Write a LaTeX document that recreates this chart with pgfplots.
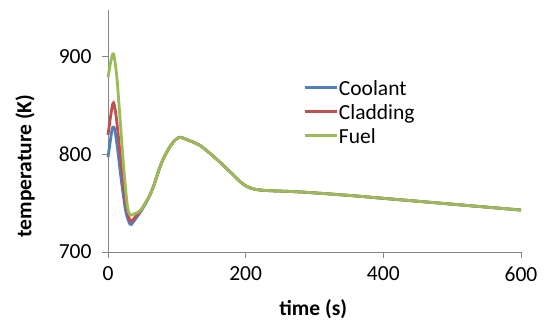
\documentclass[border=0pt]{standalone}
\usepackage{pgfplots}
\pgfplotsset{compat=1.18}
\usepackage{fontspec}
\setmainfont{Carlito}
\definecolor{cBlue}{HTML}{4F81BD}
\definecolor{cRed}{HTML}{C0504D}
\definecolor{cGreen}{HTML}{9BBB59}
\definecolor{axgray}{HTML}{868686}
\begin{document}
\begin{tikzpicture}
\begin{axis}[
  scale only axis, width=413pt, height=242pt,
  xmin=0, xmax=600, ymin=700, ymax=948,
  xtick={0,200,400,600}, ytick={700,800,900},
  axis lines*=left,
  axis line style={axgray, line width=0.8pt},
  tick style={axgray, line width=0.8pt},
  tick align=outside, major tick length=6pt,
  /pgf/number format/assume math mode=true,
  ticklabel style={font=\fontsize{21.5}{24}\selectfont, black},
  xticklabel style={yshift=-5pt},
  yticklabel style={xshift=-7pt},
  label style={font=\fontsize{21.5}{24}\selectfont\bfseries},
  xlabel={time (s)}, ylabel={temperature (K)},
  xlabel style={at={(axis description cs:0.497,0)}, anchor=center, yshift=-57pt},
  ylabel style={at={(axis description cs:-0.201,0.355)}, anchor=center},
  clip=false,
  legend style={at={(axis description cs:0.472,0.73)}, anchor=north west, draw=none, fill=none,
    font=\fontsize{21.5}{24}\selectfont, row sep=0pt, inner sep=0pt,
    nodes={inner sep=1pt, text depth=3pt, text height=19pt}},
  legend cell align=left,
  legend image code/.code={\draw[#1, line width=2.8pt] (0pt,0pt) -- (32pt,0pt);},
  every axis plot/.append style={line width=2.8pt, smooth, tension=0.5},
]
\addplot[cBlue] coordinates {
(0,797) (3,812) (6,826) (8,828) (10,825) (14,805) (20,770) (26,741) (32,728.5) (36,730) (42,736) (48,742)
(55,750) (60,757) (66,767) (73,782) (80,795) (90,808) (98,815) (105,817.5) (115,815) (134,809) (158,795)
(182,779) (192,772) (201,767.5) (212,764.5) (230,763) (280,761.5) (350,758) (400,755) (500,749) (600,743)};
\addlegendentry{Coolant}
\addplot[cRed] coordinates {
(0,820) (4,840) (7,852) (9,851) (12,838) (16,812) (21,778) (26,749) (32,732) (36,733) (42,738) (48,743)
(55,751) (60,757) (66,767) (73,782) (80,795) (90,808) (98,815) (105,817.5) (115,815) (134,809) (158,795)
(182,779) (192,772) (201,767.5) (212,764.5) (230,763) (280,761.5) (350,758) (400,755) (500,749) (600,743)};
\addlegendentry{Cladding}
\addplot[cGreen] coordinates {
(0,879) (4,895) (7,903) (9,900) (13,878) (18,832) (23,785) (28,748) (32,738) (38,739) (44,741) (50,745)
(55,751) (60,757) (66,767) (73,782) (80,795) (90,808) (98,815) (105,817.5) (115,815) (134,809) (158,795)
(182,779) (192,772) (201,767.5) (212,764.5) (230,763) (280,761.5) (350,758) (400,755) (500,749) (600,743)};
\addlegendentry{Fuel}
\end{axis}
\path ([shift={(-108pt,-68pt)}]current axis.south west) rectangle ([shift={(23pt,10pt)}]current axis.north east);
\end{tikzpicture}
\end{document}
